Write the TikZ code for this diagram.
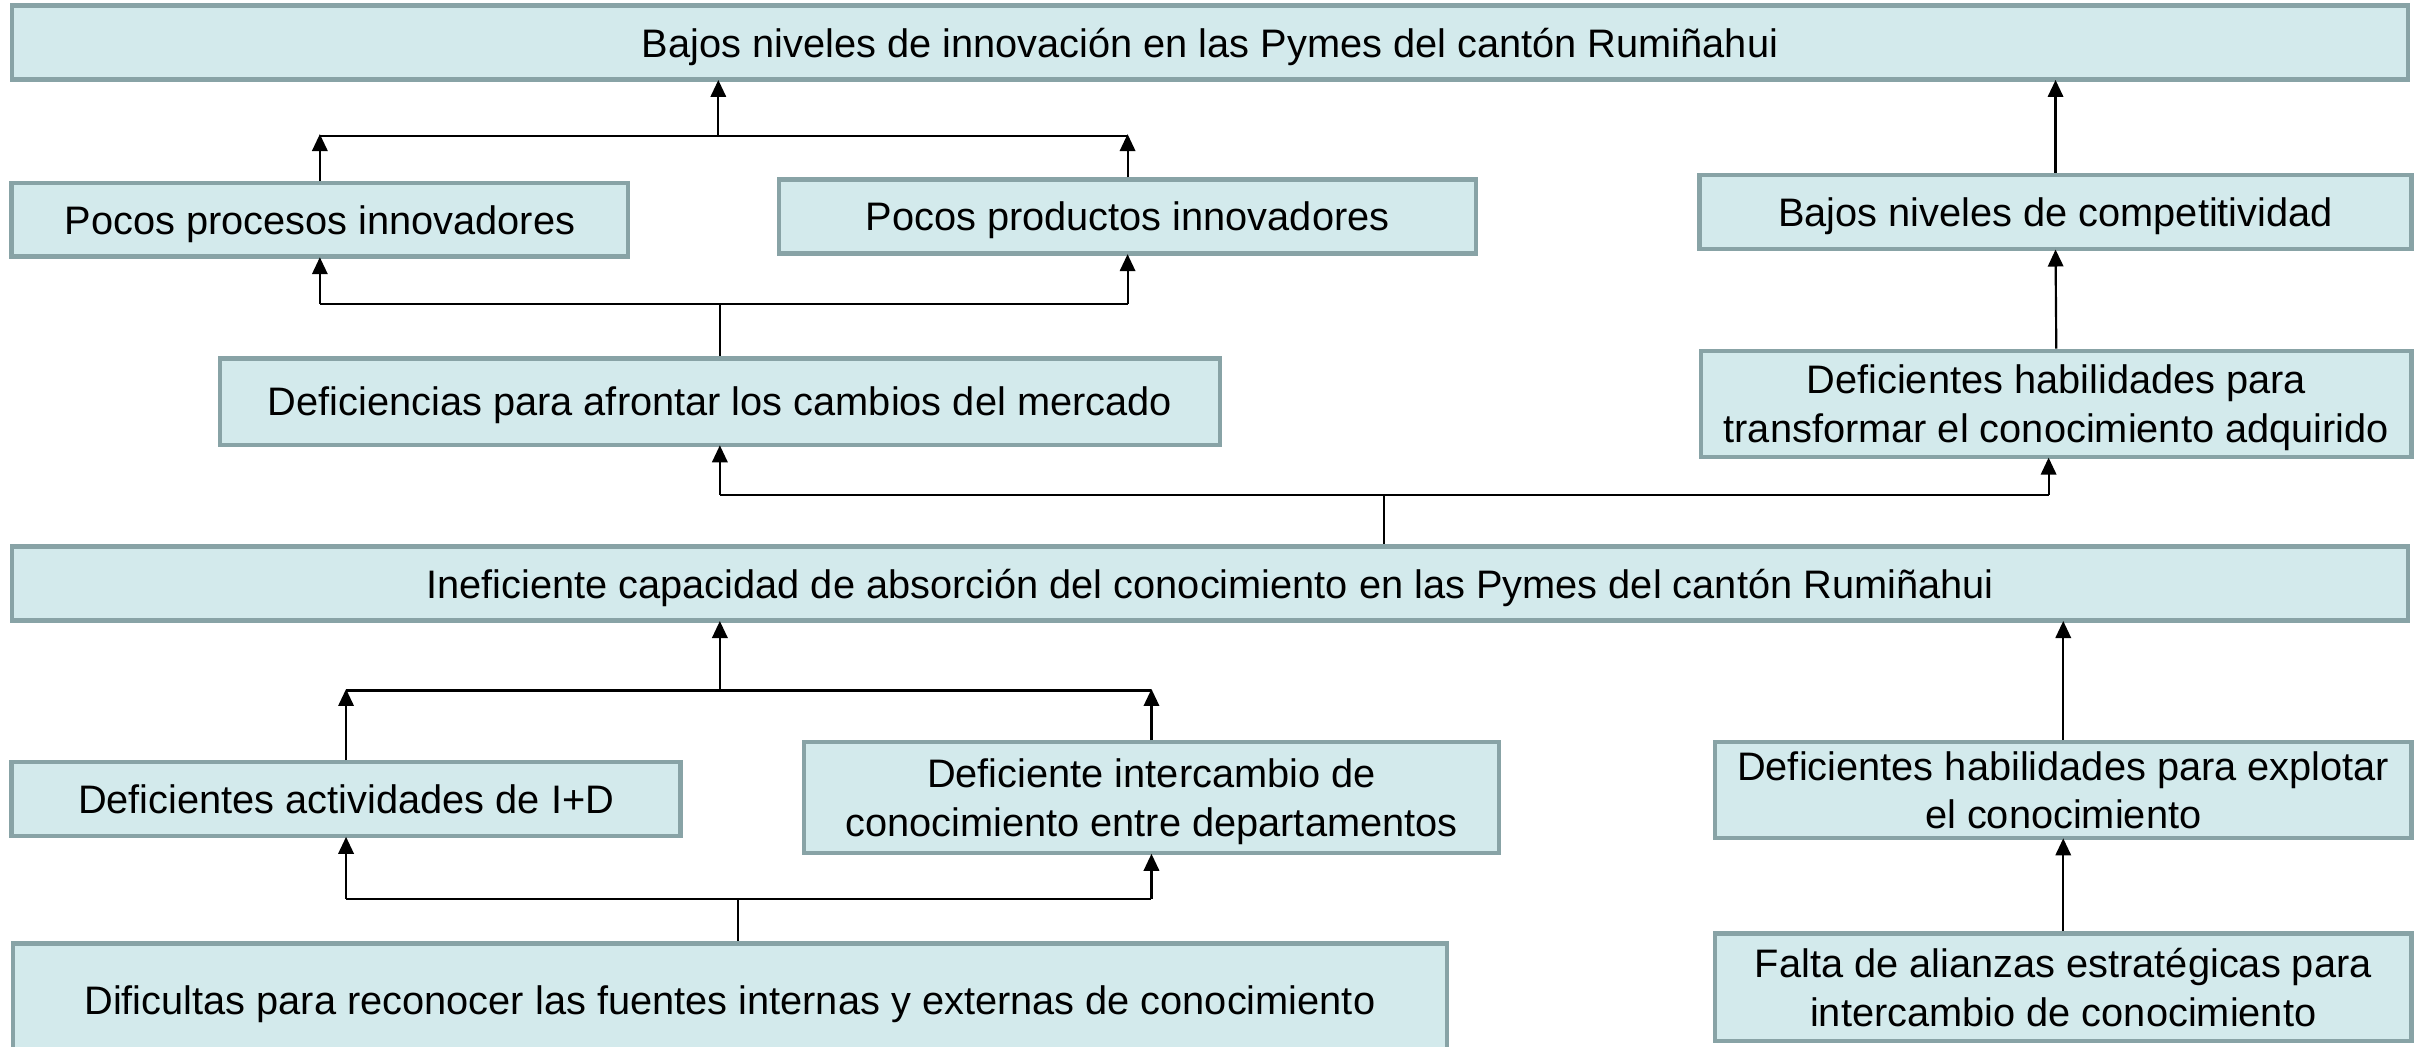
\documentclass[tikz,border=0pt]{standalone}
\usepackage{fontspec}
\setmainfont{Liberation Sans}
\usetikzlibrary{arrows.meta}
\definecolor{boxfill}{HTML}{D3EAEC}
\definecolor{boxline}{HTML}{88A3A6}
\begin{document}
\begin{tikzpicture}[x=0.5pt,y=-0.5pt,
  box/.style={draw=boxline, fill=boxfill, line width=1.4pt, inner sep=0pt, align=center,
              text depth=-1.8pt, font=\fontsize{12.9}{15.8}\selectfont},
  arr/.style={-{Triangle[length=5.5pt,width=5pt]}, line width=0.7pt, black, shorten >=-0.5pt},
  ln/.style={line width=0.7pt, black}]
\useasboundingbox (0,0) rectangle (1568,679);
% boxes
\node[box, minimum width=777pt, minimum height=24pt] (B1) at (785,27.5) {Bajos niveles de innovación en las Pymes del cantón Rumiñahui};
\node[box, minimum width=200pt, minimum height=24pt] (PP) at (207.5,142.5) {Pocos procesos innovadores};
\node[box, minimum width=226pt, minimum height=24pt] (PR) at (731.5,140.5) {Pocos productos innovadores};
\node[box, minimum width=231pt, minimum height=24pt] (BC) at (1333.5,137.5) {Bajos niveles de competitividad};
\node[box, minimum width=324.5pt, minimum height=28pt] (DEF) at (467,260.5) {Deficiencias para afrontar los cambios del mercado};
\node[box, minimum width=230.5pt, minimum height=34.5pt] (DHT) at (1334,262) {Deficientes habilidades para\\transformar el conocimiento adquirido};
\node[box, minimum width=777pt, minimum height=24pt] (INE) at (785,378.5) {Ineficiente capacidad de absorción del conocimiento en las Pymes del cantón Rumiñahui};
\node[box, minimum width=217pt, minimum height=24pt] (DAI) at (224.5,518.5) {Deficientes actividades de I+D};
\node[box, minimum width=225.5pt, minimum height=36pt] (DIC) at (747,517.5) {Deficiente intercambio de\\conocimiento entre departamentos};
\node[box, minimum width=226pt, minimum height=31pt] (DHE) at (1338.5,512.5) {Deficientes habilidades para explotar\\el conocimiento};
\node[box, minimum width=226pt, minimum height=35pt] (FAE) at (1338.5,640.5) {Falta de alianzas estratégicas para\\intercambio de conocimiento};
\node[box, minimum width=465pt, minimum height=37pt] (DFR) at (473.5,649) {Dificultas para reconocer las fuentes internas y externas de conocimiento};
% junction coordinates
\coordinate (j1) at (466,88);
\coordinate (j2) at (467,197);
\coordinate (j3) at (898,321);
\coordinate (j3R) at (1329,321);
\coordinate (j4) at (467,448);
\coordinate (j5) at (479,583);
% upper group
\draw[arr] (PP.north) -- (PP.north |- j1);
\draw[arr] (PR.north) -- (PR.north |- j1);
\draw[ln] (PP.north |- j1) -- (PR.north |- j1);
\draw[arr] (j1) -- (j1 |- B1.south);
\draw[ln] (PP.south |- j2) -- (PR.south |- j2);
\draw[arr] (PP.south |- j2) -- (PP.south);
\draw[arr] (PR.south |- j2) -- (PR.south);
\draw[ln] (j2) -- (j2 |- DEF.north);
% right column top
\draw[arr] (DHT.north) -- (BC.south);
\draw[arr] (BC.north) -- (BC.north |- B1.south);
% middle junction
\draw[ln] (DEF.south |- j3) -- (j3R);
\draw[arr] (DEF.south |- j3) -- (DEF.south);
\draw[arr] (j3R) -- (j3R |- DHT.south);
\draw[ln] (j3) -- (j3 |- INE.north);
% lower group
\draw[arr] (DAI.north) -- (DAI.north |- j4);
\draw[arr] (DIC.north) -- (DIC.north |- j4);
\draw[ln] (DAI.north |- j4) -- (DIC.north |- j4);
\draw[arr] (j4) -- (j4 |- INE.south);
\draw[ln] (DAI.south |- j5) -- (DIC.south |- j5);
\draw[arr] (DAI.south |- j5) -- (DAI.south);
\draw[arr] (DIC.south |- j5) -- (DIC.south);
\draw[ln] (j5) -- (j5 |- DFR.north);
% right column bottom
\draw[arr] (DHE.north) -- (DHE.north |- INE.south);
\draw[arr] (FAE.north) -- (DHE.south);
\end{tikzpicture}
\end{document}
